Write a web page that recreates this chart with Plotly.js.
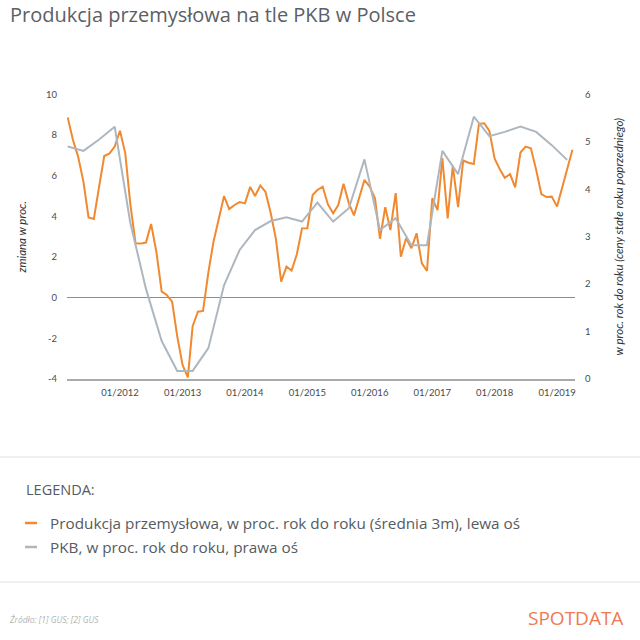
<!DOCTYPE html>
<html>
<head>
<meta charset="utf-8">
<script src="https://cdn.plot.ly/plotly-3.0.1.min.js"></script>
<style>html,body{margin:0;padding:0;background:#fff;}#chart{width:640px;height:640px;}</style>
</head>
<body>
<div id="chart"></div>
<script>
// Industrial production, % y/y (3m average), monthly from 03/2011 to 04/2019 (left axis)
const prodStart = [2011, 3];
const prodValues = [
  8.87, 7.76, 6.94, 5.71, 3.95, 3.87, 5.46, 6.97, 7.10, 7.43,          // 2011 Mar-Dec
  8.21, 7.10, 4.64, 2.68, 2.66, 2.71, 3.63, 2.25, 0.30, 0.13, -0.20, -1.90, // 2012
  -3.31, -3.92, -1.40, -0.69, -0.65, 1.25, 2.75, 3.90, 5.00, 4.36, 4.56, 4.70, // 2013
  4.64, 5.45, 5.00, 5.52, 5.21, 4.15, 2.90, 0.79, 1.53, 1.33, 2.15, 3.41, // 2014
  3.42, 5.05, 5.30, 5.46, 4.60, 4.15, 4.56, 5.60, 4.64, 4.05, 4.97, 5.79, // 2015
  5.46, 4.89, 2.90, 4.45, 3.33, 5.14, 2.02, 2.92, 2.43, 3.17, 1.69, 1.32, // 2016
  4.89, 4.31, 6.87, 3.90, 6.50, 4.45, 6.75, 6.64, 6.58, 8.55, 8.58, 8.20, // 2017
  6.84, 6.30, 5.90, 6.08, 5.43, 7.14, 7.43, 7.35, 6.28, 5.10, 4.95, 4.97, // 2018
  4.48, 5.40, 6.35, 7.28                                               // 2019 Jan-Apr
];
// GDP, % y/y, quarterly from Q1 2011 to Q1 2019 (right axis)
const gdpStart = [2011, 1];
const gdpValues = [
  4.90, 4.81, 5.05, 5.32,
  3.30, 1.90, 0.80, 0.17,
  0.17, 0.65, 1.98, 2.72,
  3.14, 3.33, 3.41, 3.32,
  3.72, 3.32, 3.60, 4.63,
  3.14, 3.39, 2.82, 2.82,
  4.81, 4.32, 5.53, 5.12,
  5.21, 5.32, 5.21, 4.93,
  4.62
];
const tickYears = [2012, 2013, 2014, 2015, 2016, 2017, 2018, 2019];
const tickLabels = ['01/2012','01/2013','01/2014','01/2015','01/2016','01/2017','01/2018','01/2019'];
const leftTicks = [-4, -2, 0, 2, 4, 6, 8, 10];
const leftTickLabels = ['-4', '-2', '0', '2', '4', '6', '8', '10'];
const rightTicks = [0, 1, 2, 3, 4, 5, 6];

const seriesNames = [
  'Produkcja przemysłowa, w proc. rok do roku (średnia 3m), lewa oś',
  'PKB, w proc. rok do roku, prawa oś'
];

function pad(n){ return (n < 10 ? '0' : '') + n; }
const prodDates = prodValues.map((v, i) => {
  const t = (prodStart[0] * 12 + prodStart[1] - 1) + i;
  return Math.floor(t / 12) + '-' + pad(t % 12 + 1) + '-01';
});
const gdpDates = gdpValues.map((v, i) => {
  const q = (gdpStart[1] - 1) + i;
  const y = gdpStart[0] + Math.floor(q / 4);
  return y + '-' + pad((q % 4) * 3 + 3) + '-01';
});
const tickVals = tickYears.map(y => y + '-01-01');

const W = 640, H = 640;
const px = x => x / W;
const py = y => 1 - y / H;

const orange = '#F0892F';
const grey = '#AEB7BF';
const textGrey = '#555b61';

const traces = [
  {
    x: gdpDates, y: gdpValues, yaxis: 'y2', type: 'scatter', mode: 'lines',
    name: seriesNames[1], line: {color: grey, width: 2}, showlegend: false, hoverinfo: 'skip'
  },
  {
    x: prodDates, y: prodValues, yaxis: 'y', type: 'scatter', mode: 'lines',
    name: seriesNames[0], line: {color: orange, width: 2}, showlegend: false, hoverinfo: 'skip'
  }
];

const tickFont = {family: 'Lato, "Open Sans", sans-serif', size: 9.5, color: '#4a4a4a'};
const axTitleFont = {family: 'Lato, "Open Sans", sans-serif', size: 11.5, color: '#333'};

const layout = {
  width: W, height: H,
  margin: {l: 0, r: 0, t: 0, b: 0},
  paper_bgcolor: '#ffffff', plot_bgcolor: '#ffffff',
  showlegend: false,
  title: {
    text: 'Produkcja przemysłowa na tle PKB w Polsce',
    x: px(10), xanchor: 'left', xref: 'paper',
    y: py(15), yanchor: 'middle', yref: 'paper',
    font: {family: '"Open Sans", sans-serif', size: 20, color: '#5b6066'}
  },
  xaxis: {
    domain: [px(67), px(575)],
    type: 'date',
    range: ['2011-02-25', '2019-04-16'],
    tickvals: tickVals, ticktext: tickLabels,
    showgrid: false, zeroline: false,
    showline: true, linecolor: '#a9a9a9', linewidth: 2,
    ticks: '', ticklabelstandoff: 4,
    tickfont: tickFont, fixedrange: true
  },
  yaxis: {
    domain: [py(379), py(94.4)],
    range: [-4, 10], tickvals: leftTicks, ticktext: leftTickLabels,
    showgrid: false, zeroline: true, zerolinecolor: '#8c8c8c', zerolinewidth: 1,
    showline: false, ticks: '', ticklabelstandoff: 9,
    tickfont: tickFont,
    title: {text: '<i>zmiana w proc.</i>', standoff: 16, font: axTitleFont},
    fixedrange: true
  },
  yaxis2: {
    overlaying: 'y', side: 'right', anchor: 'x',
    range: [0, 6], tickvals: rightTicks,
    showgrid: false, zeroline: false, showline: false,
    ticks: '', ticklabelstandoff: 9,
    tickfont: tickFont,
    title: {text: '<i>w proc. rok do roku (ceny stałe roku poprzedniego)</i>', standoff: 24, font: axTitleFont},
    fixedrange: true
  },
  shapes: [
    {type: 'rect', xref: 'paper', yref: 'paper', x0: px(-2), x1: px(642), y0: py(582), y1: py(457),
     line: {color: '#ebebeb', width: 1.5}, fillcolor: 'rgba(255,255,255,0)', layer: 'below'},
    {type: 'line', xref: 'paper', yref: 'paper', x0: px(25), x1: px(37), y0: py(523), y1: py(523),
     line: {color: orange, width: 2.5}},
    {type: 'line', xref: 'paper', yref: 'paper', x0: px(25), x1: px(37), y0: py(547), y1: py(547),
     line: {color: grey, width: 2.5}}
  ],
  annotations: [
    {text: 'LEGENDA:', xref: 'paper', yref: 'paper', x: px(24), y: py(489), xanchor: 'left', yanchor: 'middle',
     showarrow: false, font: {family: '"Open Sans", sans-serif', size: 14.5, color: textGrey}},
    {text: seriesNames[0], xref: 'paper', yref: 'paper', x: px(48), y: py(523), xanchor: 'left', yanchor: 'middle',
     showarrow: false, font: {family: '"Open Sans", sans-serif', size: 15.3, color: textGrey}},
    {text: seriesNames[1], xref: 'paper', yref: 'paper', x: px(48), y: py(547), xanchor: 'left', yanchor: 'middle',
     showarrow: false, font: {family: '"Open Sans", sans-serif', size: 15.3, color: textGrey}},
    {text: '<i>Źródło: [1] GUS; [2] GUS</i>', xref: 'paper', yref: 'paper', x: px(7), y: py(619), xanchor: 'left', yanchor: 'middle',
     showarrow: false, font: {family: '"Open Sans", sans-serif', size: 8.5, color: '#b3b3b3'}},
    {text: 'SPOTDATA', xref: 'paper', yref: 'paper', x: px(625), y: py(618), xanchor: 'right', yanchor: 'middle',
     showarrow: false, font: {family: '"Open Sans", sans-serif', size: 19, color: '#EE7A55'}}
  ]
};

Plotly.newPlot('chart', traces, layout, {staticPlot: true, displayModeBar: false});
</script>
</body>
</html>
